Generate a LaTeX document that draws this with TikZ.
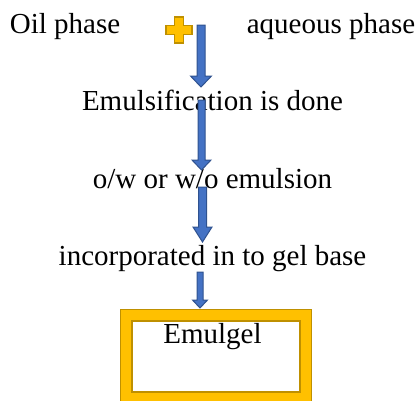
\documentclass[tikz,border=0pt]{standalone}
\usepackage{fontspec}
\setmainfont{Liberation Serif}
\definecolor{arrblue}{HTML}{4472C4}
\definecolor{arrborder}{HTML}{2F528F}
\definecolor{ylw}{HTML}{FFC000}
\definecolor{ylwdark}{HTML}{BF9000}
\tikzset{
  lbl/.style={anchor=base, inner sep=0pt, font=\fontsize{29}{32}\selectfont},
  blockarr/.style={fill=arrblue, draw=arrborder, line width=1pt, line join=miter},
}
% x, ytop, ytip, shaft half width, head half width, head length
\newcommand{\blockarrow}[6]{%
  \draw[blockarr] (#1-#4,#2) -- (#1+#4,#2) -- (#1+#4,#3-#6) -- (#1+#5,#3-#6)
    -- (#1,#3) -- (#1-#5,#3-#6) -- (#1-#4,#3-#6) -- cycle;}
\begin{document}
\begin{tikzpicture}[x=1pt,y=-1pt]
\useasboundingbox (0,0) rectangle (417,400);
\clip (0,0) rectangle (417,400);
% texts
\node[lbl] (oil) at (65,33) {Oil phase};
\node[lbl] (aq) at (331,33) {aqueous phase};
\node[lbl] (emu) at (212.5,110) {Emulsification is done};
\node[lbl] (ow) at (212.5,188) {o/w or w/o emulsion};
\node[lbl] (inc) at (212.5,265) {incorporated in to gel base};
% plus sign
\draw[fill=ylw, draw=ylwdark, line width=1.2pt]
  (174.5,17) -- (183.5,17) -- (183.5,25.5) -- (192,25.5) -- (192,34.5) -- (183.5,34.5)
  -- (183.5,43) -- (174.5,43) -- (174.5,34.5) -- (166,34.5) -- (166,25.5) -- (174.5,25.5) -- cycle;
% arrows
\blockarrow{201}{25}{87}{4}{10.5}{11}
\blockarrow{201.5}{100}{170}{3.5}{9.5}{10}
\blockarrow{202.5}{187}{242}{4}{9.5}{15}
\blockarrow{200}{272}{308}{3}{7.5}{8}
% Emulgel frame
\draw[fill=ylw, draw=ylwdark, line width=1.2pt] (120.5,309.5) rectangle (311.5,412);
\draw[fill=white, draw=ylwdark, line width=2pt] (132,321) rectangle (300,392);
\node[lbl] (gel) at (212.5,343) {Emulgel};
\end{tikzpicture}
\end{document}
